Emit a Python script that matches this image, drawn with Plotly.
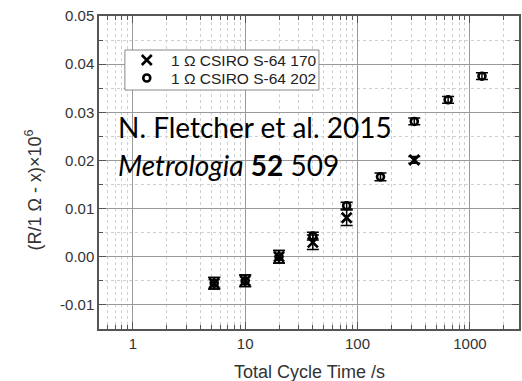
import numpy as np
import plotly.graph_objects as go

# Sample 170: total cycle time (s), deviation and uncertainty
t_170 = [5.3, 10, 20, 40, 80, 320]
dev_170 = [-0.0055, -0.0050, 0.0000, 0.0030, 0.0081, 0.0201]
err_170 = [0.0012, 0.0012, 0.0013, 0.0015, 0.0016, 0.0007]

# Sample 202
t_202 = [5.3, 10, 20, 40, 80, 160, 320, 640, 1280]
dev_202 = [-0.0055, -0.0050, 0.0000, 0.0043, 0.0106, 0.0166, 0.0281, 0.0326, 0.0375]
err_202 = [0.0012, 0.0012, 0.0013, 0.0008, 0.0007, 0.0008, 0.0007, 0.0007, 0.0007]

names = ["1 \u03a9 CSIRO S-64 170", "1 \u03a9 CSIRO S-64 202"]

x_major = [1, 10, 100, 1000]
x_minor = [m * 10.0 ** d for d in range(-1, 4) for m in range(2, 10)]
y_ticks = [-0.01, 0.0, 0.01, 0.02, 0.03, 0.04, 0.05]

FONT = "Liberation Sans, Arial, sans-serif"
X_STYLE = dict(symbol="x-thin-open", size=10, color="black",
               line=dict(width=2.6, color="black"))
O_STYLE = dict(symbol="circle-open", size=7, color="black",
               line=dict(width=2.6, color="black"))

# plot area in pixels (left, right, top, bottom)
L, R, T, B = 99, 521, 16, 329
W, H = 522, 381

fig = go.Figure()
fig.add_trace(go.Scatter(
    x=t_170, y=dev_170, mode="markers", name=names[0], marker=X_STYLE,
    error_y=dict(type="data", array=err_170, color="black", thickness=1.5, width=6),
))
fig.add_trace(go.Scatter(
    x=t_202, y=dev_202, mode="markers", name=names[1], marker=O_STYLE,
    error_y=dict(type="data", array=err_202, color="black", thickness=1.5, width=6),
))

# legend frame and keys, on a pixel-scaled overlay axis
bx0, bx1, by0, by1 = 125, 320, 50, 90
fig.add_trace(go.Scatter(
    x=[bx0, bx1, bx1, bx0, bx0], y=[by0, by0, by1, by1, by0],
    mode="lines", fill="toself", fillcolor="white",
    line=dict(color="#888", width=1), xaxis="x2", yaxis="y2",
    showlegend=False, hoverinfo="skip",
))
key_x = [147, 147]
key_y = [60, 78]
for i, style in enumerate([X_STYLE, O_STYLE]):
    fig.add_trace(go.Scatter(
        x=[key_x[i]], y=[key_y[i]], mode="markers", marker=style,
        xaxis="x2", yaxis="y2", showlegend=False, hoverinfo="skip",
    ))
    fig.add_annotation(
        text=names[i], xref="x2", yref="y2", x=169, y=key_y[i],
        xanchor="left", yanchor="middle", showarrow=False,
        font=dict(family=FONT, size=15.5, color="#222"),
    )

axis_common = dict(
    showline=True, linecolor="#555", linewidth=1.5, mirror="ticks",
    ticks="inside", ticklen=7, tickcolor="#555", tickwidth=1,
    showgrid=True, gridcolor="#9a9a9a", gridwidth=1, zeroline=False,
    tickfont=dict(family=FONT, size=15, color="#333"),
)

fig.update_xaxes(
    type="log", range=[np.log10(0.5), 3.437],
    tickmode="array", tickvals=x_major, ticktext=[str(v) for v in x_major],
    minor=dict(tickmode="array", tickvals=x_minor, ticks="inside", ticklen=4,
               tickcolor="#555", showgrid=True, gridcolor="#cfcfcf", griddash="dot"),
    **axis_common,
)
fig.update_yaxes(
    range=[-0.015, 0.05],
    tickmode="array", tickvals=y_ticks, ticktext=[f"{v:.2f}" for v in y_ticks],
    minor=dict(dtick=0.005, ticks="inside", ticklen=4, tickcolor="#555",
               showgrid=True, gridcolor="#cfcfcf", griddash="dot"),
    **axis_common,
)

fig.update_layout(
    xaxis2=dict(overlaying="x", range=[L, R], visible=False, fixedrange=True),
    yaxis2=dict(overlaying="y", range=[B, T], visible=False, fixedrange=True),
)

fig.add_annotation(
    text="Total Cycle Time /s", xref="paper", yref="paper", x=0.5, y=-0.138,
    xanchor="center", yanchor="middle", showarrow=False,
    font=dict(family=FONT, size=18, color="#333"),
)
fig.add_annotation(
    text="(R/1 \u03a9 - x)\u00d710<sup>6</sup>", xref="paper", yref="paper",
    x=-0.156, y=0.444, textangle=-90, xanchor="center", yanchor="middle",
    showarrow=False, font=dict(family=FONT, size=18, color="#333"),
)
fig.add_annotation(
    text="N. Fletcher et al. 2015", xref="paper", yref="paper",
    x=0.041, y=0.645, xanchor="left", yanchor="middle", showarrow=False,
    font=dict(family="Lato, sans-serif", size=28, color="black"),
)
fig.add_annotation(
    text="<i>Metrologia</i> <b>52</b> 509", xref="paper", yref="paper",
    x=0.041, y=0.525, xanchor="left", yanchor="middle", showarrow=False,
    font=dict(family="Lato, sans-serif", size=28, color="black"),
)

fig.update_layout(
    width=W, height=H,
    margin=dict(l=L, r=W - R, t=T, b=H - B),
    paper_bgcolor="white", plot_bgcolor="white",
    showlegend=False,
)

fig.write_html("out.html")
